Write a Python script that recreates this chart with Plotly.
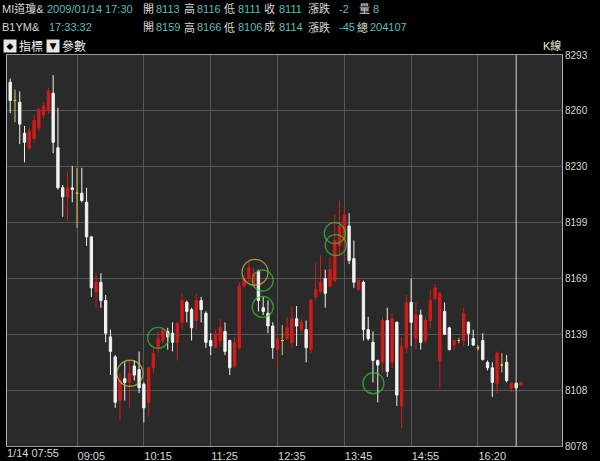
import plotly.graph_objects as go

# ---------------- data (5-minute bars) ----------------
bar_open = [8278, 8268, 8267, 8250, 8242, 8247, 8253, 8260, 8263, 8272,
            8242, 8220, 8215, 8220, 8217, 8217, 8212, 8193, 8163, 8168,
            8158, 8138, 8127, 8103, 8115, 8113, 8122, 8120, 8112, 8102,
            8121, 8132, 8136, 8141, 8140, 8135, 8146, 8157, 8153, 8147,
            8158, 8151, 8136, 8132, 8136, 8141, 8136, 8122, 8132, 8166,
            8170, 8166, 8174, 8154, 8151, 8144, 8131, 8136, 8137, 8135,
            8148, 8142, 8142, 8131, 8160, 8163, 8170, 8166, 8169, 8188,
            8191, 8199, 8181, 8164, 8168, 8142, 8135, 8125, 8124, 8147,
            8124, 8146, 8100, 8132, 8157, 8137, 8150, 8136, 8147, 8159,
            8125, 8152, 8143, 8133.5, 8136, 8136, 8146, 8137, 8132, 8136,
            8124, 8121, 8112.5, 8122.5, 8124, 8110, 8112.5, 8111.5]
bar_high = [8280, 8274, 8273, 8254, 8253, 8260, 8264, 8267, 8275, 8282,
            8264, 8221.5, 8229, 8232, 8231, 8231, 8220, 8193, 8173, 8173,
            8161, 8142, 8128, 8118, 8124, 8125, 8125, 8130, 8113, 8121.5,
            8132, 8141, 8143, 8143, 8146, 8146, 8162, 8158, 8154, 8162,
            8160, 8152, 8140, 8142, 8148, 8146, 8136.5, 8138, 8168, 8172,
            8179, 8176, 8175, 8160, 8158, 8146, 8140, 8144.5, 8149, 8155,
            8155, 8148, 8147, 8159, 8178.5, 8183, 8175, 8182, 8205, 8213,
            8210, 8206, 8191, 8170, 8169, 8149, 8141, 8125.5, 8149, 8154,
            8151, 8146.5, 8138, 8161, 8170, 8157, 8153, 8149, 8164, 8167,
            8163, 8157, 8143.5, 8136.5, 8137.5, 8154, 8146.5, 8142, 8133.5, 8140,
            8125, 8124, 8130, 8129, 8128, 8113, 8113, 8113.5]
bar_low = [8261, 8256, 8244, 8234, 8241, 8245, 8251, 8258, 8261, 8239,
           8219, 8204, 8202, 8212, 8198, 8212, 8188, 8160, 8154, 8154,
           8135, 8117, 8099, 8092, 8103, 8099, 8114, 8107, 8091, 8094,
           8118, 8129, 8135, 8131, 8130, 8125, 8142, 8146, 8136, 8142,
           8146, 8132, 8128, 8132, 8133, 8128, 8117, 8121, 8131, 8165,
           8168, 8165, 8152, 8150, 8140, 8126, 8122, 8128, 8136, 8132,
           8133, 8140, 8124, 8129, 8158, 8162, 8154, 8165, 8168, 8183,
           8179, 8178, 8165, 8163.5, 8136, 8136, 8113, 8102, 8118, 8116,
           8121, 8100, 8088, 8129, 8133, 8131, 8131, 8134.5, 8143, 8158,
           8110, 8139, 8130.5, 8130.5, 8134.5, 8133, 8133, 8133, 8130.5, 8125,
           8119.5, 8105, 8107, 8118.5, 8113, 8107.5, 8109, 8111]
bar_close = [8268, 8268, 8255, 8245, 8251, 8257, 8263, 8265, 8273, 8245,
             8220, 8215, 8220, 8219, 8217, 8213, 8193, 8165, 8168, 8158,
             8140, 8130, 8102, 8114, 8113, 8118, 8117, 8110, 8099, 8121,
             8129, 8137, 8142, 8138, 8135, 8145.5, 8158, 8152, 8143, 8158,
             8153, 8135, 8133, 8140, 8143, 8130, 8121, 8135, 8166, 8170,
             8176, 8173, 8158, 8152, 8144, 8132, 8137, 8136, 8143, 8148,
             8144, 8146, 8132, 8158, 8164, 8168, 8162, 8175, 8191, 8199,
             8205, 8180, 8168, 8169, 8142, 8137, 8125, 8122.5, 8147, 8119,
             8148, 8106, 8133, 8157, 8146, 8150, 8135, 8147, 8158, 8165,
             8162, 8139.5, 8131, 8136, 8136, 8151, 8140, 8133.5, 8132, 8125.5,
             8121, 8113, 8129, 8122.5, 8114, 8112.5, 8110, 8113]

tick_bar = [14, 28, 42, 56, 70, 84, 98]
tick_text = ["09:05", "10:15", "11:25", "12:35", "13:45", "14:55", "16:20"]
first_tick_text = "1/14 07:55"

price_ticks = [8078, 8108.7, 8139.4, 8170.1, 8200.9, 8231.6, 8262.3, 8293]
price_text = ["8078", "8108", "8139", "8169", "8199", "8230", "8260", "8293"]

cursor_bar = 106

circle_bar = [25.1, 31.0, 51.3, 52.9, 52.9, 68.0, 68.2, 76.1]
circle_price = [8118, 8137.5, 8173.5, 8169, 8154.5, 8195, 8188.5, 8112.5]
circle_kind = ["y", "g", "y", "g", "g", "g", "g", "g"]

header1 = ["MI道瓊&", "2009/01/14 17:30", "開", "8113", "高", "8116", "低", "8111",
           "收", "8111", "漲跌", "-2", "量", "8"]
header2 = ["B1YM&", "17:33:32", "開", "8159", "高", "8166", "低", "8106",
           "成", "8114", "漲跌", "-45", "總", "204107"]

# ---------------- layout constants ----------------
W, H = 600, 461
PL, PR, PT, PB = 7, 562, 55, 446
X_RANGE = [-0.67, 115.6]
Y_RANGE = [8078, 8293]

RED = "#d41a1a"
WHITE = "#f2f2f2"
YELLOW = "#d8c860"
TEAL = "#5fbcbc"
LABEL = "#d8d8d8"
GREEN = "#38c838"
CIRCLE_YELLOW = "#d2c458"

def pxx(px):
    return (px - PL) / (PR - PL)

def pxy(py):
    return (PB - py) / (PB - PT)

idx = list(range(len(bar_open)))
reg = [i for i in idx if bar_open[i] != bar_close[i]]
doji = [i for i in idx if bar_open[i] == bar_close[i]]

fig = go.Figure()
fig.add_trace(go.Candlestick(
    x=reg,
    open=[bar_open[i] for i in reg], high=[bar_high[i] for i in reg],
    low=[bar_low[i] for i in reg], close=[bar_close[i] for i in reg],
    increasing=dict(fillcolor=RED, line=dict(color=RED, width=1)),
    decreasing=dict(fillcolor=WHITE, line=dict(color=WHITE, width=1)),
    whiskerwidth=0, hoverinfo="skip", showlegend=False,
))
fig.add_trace(go.Candlestick(
    x=doji,
    open=[bar_open[i] for i in doji], high=[bar_high[i] for i in doji],
    low=[bar_low[i] for i in doji], close=[bar_close[i] for i in doji],
    increasing=dict(fillcolor=YELLOW, line=dict(color=YELLOW, width=1)),
    decreasing=dict(fillcolor=YELLOW, line=dict(color=YELLOW, width=1)),
    whiskerwidth=0, hoverinfo="skip", showlegend=False,
))

sizes = {"y": 26, "g": 21}
cols = {"y": CIRCLE_YELLOW, "g": GREEN}
fig.add_trace(go.Scatter(
    x=circle_bar, y=circle_price, mode="markers", showlegend=False, hoverinfo="skip",
    marker=dict(symbol="circle-open", size=[sizes[k] for k in circle_kind],
                color=[cols[k] for k in circle_kind],
                line=dict(width=1.3, color=[cols[k] for k in circle_kind])),
))

fig.add_shape(type="line", xref="x", yref="paper", x0=cursor_bar, x1=cursor_bar,
              y0=0, y1=1, line=dict(color="#d0d0d0", width=1))

annotations = []
FONT = "Liberation Sans, Noto Sans CJK TC, sans-serif"
pos1 = [0, 45, 141, 154, 182, 195, 222, 236, 262, 277, 306, 337, 357, 371]
pos2 = [0, 47, 141, 154, 182, 195, 222, 236, 262, 277, 306, 337, 355, 368]
for row, texts, pos in ((9, header1, pos1), (27, header2, pos2)):
    for j, (t, p) in enumerate(zip(texts, pos)):
        c = TEAL if j % 2 == 1 else LABEL
        annotations.append(dict(
            x=pxx(p), y=pxy(row), xref="paper", yref="paper", text=t,
            showarrow=False, xanchor="left", yanchor="middle",
            font=dict(family=FONT, size=11, color=c)))

# toolbar line
for p, glyph in ((3, "◆"), (46, "▼")):
    annotations.append(dict(
        x=pxx(p), y=pxy(46), xref="paper", yref="paper", text=glyph,
        showarrow=False, xanchor="left", yanchor="middle", bgcolor="#e6e6e6",
        borderpad=0, width=12, height=12, align="center",
        font=dict(family="DejaVu Sans", size=9, color="#000000")))
for p, t in ((17, "指標"), (60, "參數")):
    annotations.append(dict(
        x=pxx(p), y=pxy(46), xref="paper", yref="paper", text=t,
        showarrow=False, xanchor="left", yanchor="middle",
        font=dict(family="Noto Sans CJK TC", size=12, color="#f0f0f0")))
annotations.append(dict(
    x=pxx(541), y=pxy(46), xref="paper", yref="paper", text="K線",
    showarrow=False, xanchor="left", yanchor="middle",
    font=dict(family=FONT, size=11, color="#ecebd6")))
annotations.append(dict(
    x=pxx(5), y=pxy(453), xref="paper", yref="paper", text=first_tick_text,
    showarrow=False, xanchor="left", yanchor="middle",
    font=dict(family="Liberation Sans", size=11, color=LABEL)))

fig.update_layout(
    width=W, height=H,
    margin=dict(l=PL, r=W - PR, t=PT, b=H - PB, pad=0),
    paper_bgcolor="#000000", plot_bgcolor="#2a2a2a",
    annotations=annotations, boxgap=0.3,
    hovermode=False,
)
fig.update_xaxes(
    range=X_RANGE, rangeslider=dict(visible=False), automargin=False,
    tickmode="array", tickvals=tick_bar, ticktext=tick_text,
    ticklabelposition="outside right", ticks="",
    tickfont=dict(family="Liberation Sans", size=11, color=LABEL),
    showgrid=True, gridcolor="#565656", gridwidth=1, zeroline=False,
    showline=True, mirror=True, linecolor="#9a9a9a", linewidth=1,
)
fig.update_yaxes(
    range=Y_RANGE, side="right", automargin=False,
    tickmode="array", tickvals=price_ticks, ticktext=price_text, ticks="",
    tickfont=dict(family="Liberation Sans", size=10, color=LABEL),
    showgrid=True, gridcolor="#565656", gridwidth=1, zeroline=False,
    showline=True, mirror=True, linecolor="#b0b0b0", linewidth=1,
)

fig.write_html(
    "out.html",
    post_script="document.body.style.margin='0px';document.body.style.background='#000';",
    config={"displayModeBar": False},
)
